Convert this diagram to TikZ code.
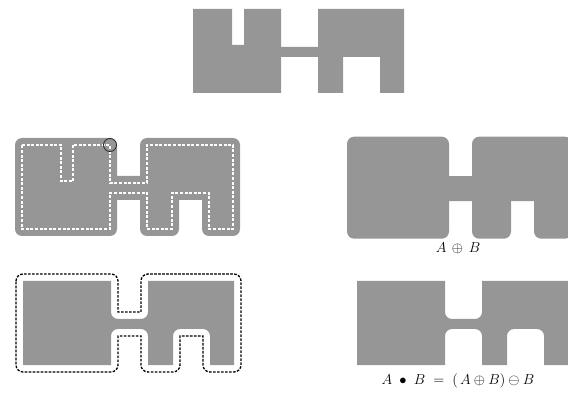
\documentclass[tikz,border=0pt]{standalone}
\usepackage{tikz}
\definecolor{shapegray}{RGB}{150,150,150}
\def\shapeA{(0,0) -- (39,0) -- (39,-36) -- (51,-36) -- (51,0) -- (88,0) -- (88,-38) -- (125,-38) -- (125,0) -- (211,0) -- (211,-84) -- (187,-84) -- (187,-48) -- (150,-48) -- (150,-84) -- (125,-84) -- (125,-48) -- (88,-48) -- (88,-84) -- (0,-84) -- cycle}
\def\shapeDil{(-7,0) arc[start angle=180,end angle=90,radius=7] -- (88,7) arc[start angle=90,end angle=0,radius=7] -- (95,-31) -- (118,-31) -- (118,0) arc[start angle=180,end angle=90,radius=7] -- (211,7) arc[start angle=90,end angle=0,radius=7] -- (218,-84) arc[start angle=0,end angle=-90,radius=7] -- (187,-91) arc[start angle=-90,end angle=-180,radius=7] -- (180,-55) -- (157,-55) -- (157,-84) arc[start angle=0,end angle=-90,radius=7] -- (125,-91) arc[start angle=-90,end angle=-180,radius=7] -- (118,-55) -- (95,-55) -- (95,-84) arc[start angle=0,end angle=-90,radius=7] -- (0,-91) arc[start angle=-90,end angle=-180,radius=7] -- cycle}
\def\shapeClo{(0,0) -- (88,0) -- (88,-31) arc[start angle=180,end angle=270,radius=7] -- (118,-38) arc[start angle=270,end angle=360,radius=7] -- (125,0) -- (211,0) -- (211,-84) -- (187,-84) -- (187,-55) arc[start angle=0,end angle=90,radius=7] -- (157,-48) arc[start angle=90,end angle=180,radius=7] -- (150,-84) -- (125,-84) -- (125,-55) arc[start angle=0,end angle=90,radius=7] -- (95,-48) arc[start angle=90,end angle=180,radius=7] -- (88,-84) -- (0,-84) -- cycle}
\tikzset{
  grayfill/.style={fill=shapegray},
  whitedash/.style={draw=white,line width=1.2pt,dash pattern=on 3pt off 1.6pt},
  blackdash/.style={draw=black,line width=1.3pt,dash pattern=on 2.6pt off 1.4pt},
  selem/.style={draw=black!85,line width=0.8pt},
  lbl/.style={font=\fontsize{14}{16}\selectfont,inner sep=0pt}
}
\begin{document}
\begin{tikzpicture}[x=1pt,y=1pt]
\useasboundingbox (0,0) rectangle (568,394);
\clip (0,0) rectangle (568,394);
% top: original set A
\begin{scope}[shift={(193,385)}]
  \fill[grayfill] \shapeA;
\end{scope}
% middle left: dilation with A outline
\begin{scope}[shift={(22,249)}]
  \fill[grayfill] \shapeDil;
  \path[whitedash] \shapeA;
  \draw[selem] (88,0) circle[radius=6.5];
\end{scope}
% middle right: A dilated by B
\begin{scope}[shift={(354,250)},xscale=1.0,yscale=1.04]
  \fill[grayfill] \shapeDil;
\end{scope}
\node[lbl] (lblDil) at (458,146) {$A\,\oplus\,B$};
% bottom left: closing with dilation outline
\begin{scope}[shift={(23,113)}]
  \fill[grayfill] \shapeClo;
  \path[blackdash] \shapeDil;
\end{scope}
% bottom right: closing
\begin{scope}[shift={(357,113)}]
  \fill[grayfill] \shapeClo;
\end{scope}
\node[lbl] (lblClo) at (458,13) {$A\;\bullet\;B\;=\;(\,A\oplus B)\ominus B$};
\end{tikzpicture}
\end{document}
